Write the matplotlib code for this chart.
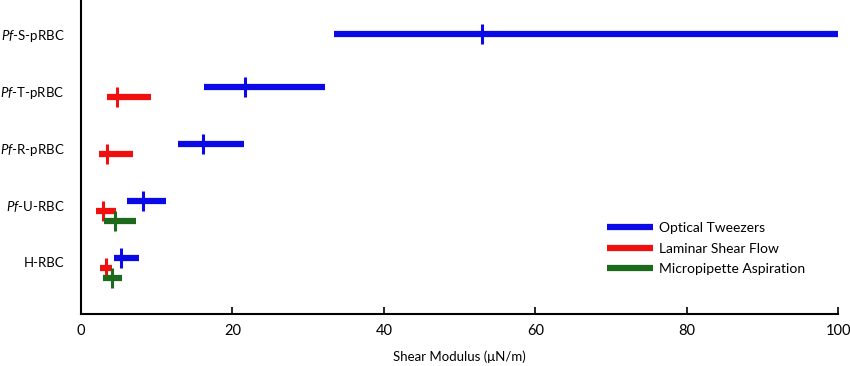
import matplotlib
matplotlib.use("Agg")
from matplotlib import pyplot as plt

# cell types (top to bottom)
cellTypes = ["$\\mathit{Pf}$-S-pRBC", "$\\mathit{Pf}$-T-pRBC", "$\\mathit{Pf}$-R-pRBC",
             "$\\mathit{Pf}$-U-RBC", "H-RBC"]

# shear modulus ranges (uN/m): low, mean, high ; None = no measurement
opticalLow = [33.4, 16.2, 12.8, 6.1, 4.4]
opticalMean = [53.0, 21.7, 16.1, 8.2, 5.3]
opticalHigh = [100.0, 32.2, 21.5, 11.2, 7.7]

laminarLow = [None, 3.4, 2.4, 2.0, 2.5]
laminarMean = [None, 4.8, 3.4, 2.9, 3.3]
laminarHigh = [None, 9.2, 6.9, 4.6, 4.1]

microLow = [None, None, None, 3.0, 2.9]
microMean = [None, None, None, 4.5, 4.1]
microHigh = [None, None, None, 7.3, 5.4]

methods = [
    ("Optical Tweezers", opticalLow, opticalMean, opticalHigh, "#0a0ae6", -0.07),
    ("Laminar Shear Flow", laminarLow, laminarMean, laminarHigh, "#f01010", 0.10),
    ("Micropipette Aspiration", microLow, microMean, microHigh, "#1c6a1c", 0.27),
]

plt.rcParams["font.family"] = ["Lato", "DejaVu Sans"]
plt.rcParams["mathtext.fontset"] = "custom"
plt.rcParams["mathtext.it"] = "Lato:italic"
plt.rcParams["mathtext.rm"] = "Lato"

fig = plt.figure(figsize=(8.5, 3.66), dpi=100)
ax = fig.add_axes([0.0953, 0.142, 0.891, 0.858])

for label, lows, means, highs, color, offset in methods:
    first = True
    for i in range(len(cellTypes)):
        if lows[i] is None:
            continue
        # only one measurement for the top row, keep it centred
        y = i if i == 0 else i + offset
        ax.plot([lows[i], highs[i]], [y, y], color=color, lw=4.5,
                solid_capstyle="butt", label=label if first else None)
        ax.plot([means[i]], [y], marker="|", color=color, ms=14, mew=2.2)
        first = False

ax.set_xlim(0, 100)
ax.set_ylim(4.91, -0.6)
ax.set_yticks(range(len(cellTypes)))
ax.set_yticklabels(cellTypes, fontsize=9.5)
ax.tick_params(axis="y", length=0, pad=12)
ax.set_xticks([0, 20, 40, 60, 80, 100])
ax.tick_params(axis="x", direction="in", length=5, width=1.2, labelsize=10.5, pad=7)
ax.spines["top"].set_visible(False)
ax.spines["right"].set_visible(False)
ax.spines["left"].set_linewidth(1.5)
ax.spines["bottom"].set_linewidth(1.5)
ax.set_xlabel("Shear Modulus (\u03bcN/m)", fontsize=9.5, labelpad=9)

ax.legend(loc="lower right", bbox_to_anchor=(0.972, 0.085), frameon=False,
          fontsize=10, handlelength=3.3, handletextpad=0.4, labelspacing=0.6)

plt.savefig("out.png", dpi=100)
